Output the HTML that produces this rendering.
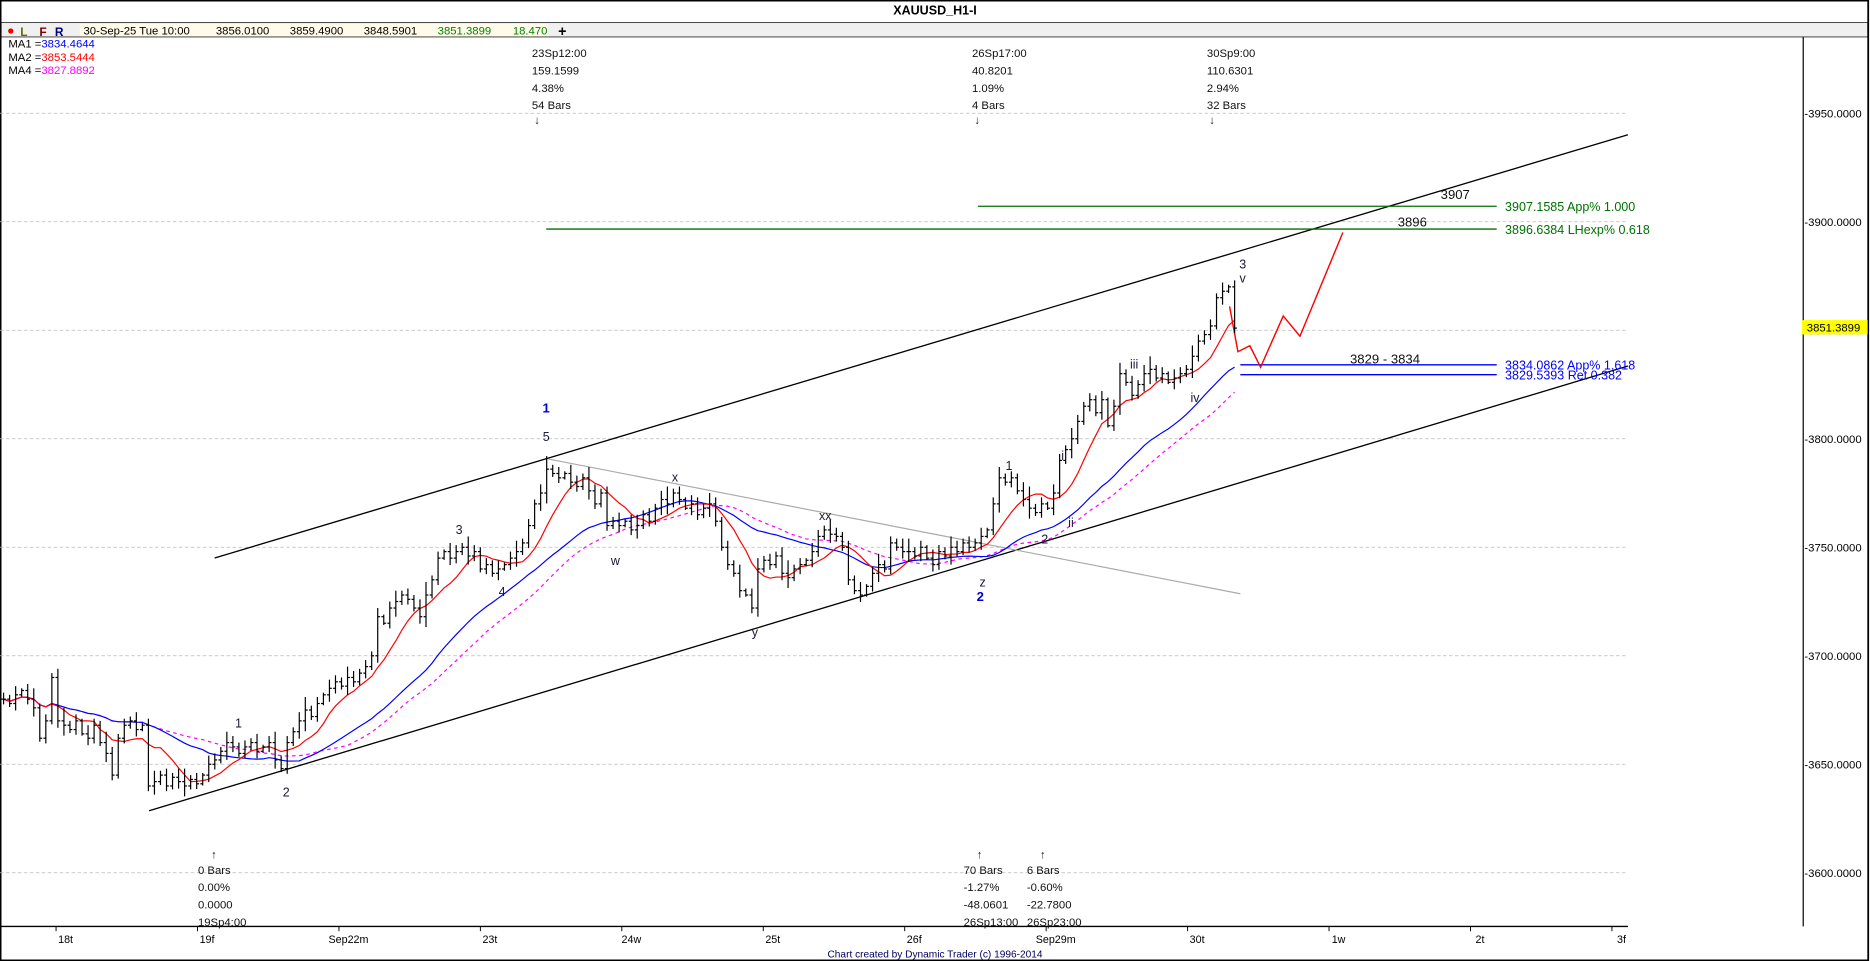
<!DOCTYPE html>
<html><head><meta charset="utf-8"><title>XAUUSD_H1-I</title>
<style>
html,body{margin:0;padding:0;background:#fff;}
svg{display:block;font-family:"Liberation Sans",sans-serif;}
</style></head>
<body>
<svg id="chart" width="1870" height="961" viewBox="0 0 1568 806" preserveAspectRatio="none" xmlns="http://www.w3.org/2000/svg">
  <rect x="0" y="0" width="1568" height="806" fill="#fff"/>
  <rect x="0.5" y="0.5" width="1566" height="805" fill="none" stroke="#000" stroke-width="1.5"/>
  <text x="784" y="12" font-size="10.5" font-weight="bold" text-anchor="middle">XAUUSD_H1-I</text>
  <rect x="1" y="19" width="1565" height="12" fill="#f0f0f0" stroke="#000" stroke-width="0.6"/>
  <circle cx="9" cy="26" r="2.2" fill="#e00"/>
  <text x="17" y="30" font-size="10" fill="#6b6b00" font-weight="bold">L</text>
  <text x="33" y="30" font-size="10" fill="#7a0000" font-weight="bold">F</text>
  <text x="46" y="30" font-size="10" fill="#000080" font-weight="bold">R</text>
  <rect x="67" y="20" width="392" height="10.5" fill="#fffbe8"/>
  <text x="70" y="29" font-size="9.5"><tspan>30-Sep-25 Tue 10:00</tspan><tspan x="181">3856.0100</tspan><tspan x="243">3859.4900</tspan><tspan x="305">3848.5901</tspan><tspan x="367" fill="#008000">3851.3899</tspan><tspan x="430" fill="#008000">18.470</tspan></text>
  <text x="468" y="30" font-size="12" font-weight="bold">+</text>
  <text x="7" y="40" font-size="9.5">MA1 =<tspan fill="#0000ff">3834.4644</tspan></text>
  <text x="7" y="51" font-size="9.5">MA2 =<tspan fill="#ff0000">3853.5444</tspan></text>
  <text x="7" y="62" font-size="9.5">MA4 =<tspan fill="#ff00ff">3827.8892</tspan></text>
  <g id="grid"></g>
  <g id="annot"></g>
  <g id="mas"></g>
  <g id="bars"></g>
  <g id="axes"></g>
  <g id="labels"></g>
</svg>
<script>
const closes = [
3680,3678,3682,3684,3680,3676,3662,3670,3690,3670,
3668,3666,3670,3664,3662,3668,3660,3655,3645,3662,3668,3670,3666,3668,
3640,3642,3645,3640,3644,3642,3640,3643,3641,3645,3650,
3652,3656,3660,3658,3655,3658,3660,3656,3658,3660,3652,3648,
3660,3665,3670,3675,3672,3678,3682,3685,3688,3686,
3690,3688,3692,3695,3700,3718,3715,3722,3725,3728,
3726,3722,3718,3728,3735,3745,3748,3745,3748,3750,
3746,3748,3740,3742,3738,3740,3742,3745,3748,3752,
3760,3770,3775,3786,
3784,3782,3784,3780,3778,3782,3776,3770,3775,
3760,3762,3760,3762,3758,3760,3765,3762,3768,3772,
3770,3775,3772,3768,3770,3765,3768,3770,3762,3750,
3742,3738,3730,3728,3722,3740,3744,3742,3746,3738,
3736,3740,3742,3744,3748,3755,3758,3756,3755,3750,
3735,3730,3728,3732,3738,3742,3740,3752,3750,3748,
3748,3746,3750,3745,3742,3748,3746,3750,3748,3752,
3750,3752,3755,3758,3770,3782,3780,3782,3776,3772,
3768,3766,3770,3768,3775,3790,3795,3800,3808,3815,
3818,3812,3818,3806,3815,3830,3826,3820,3825,3830,
3832,3828,3830,3826,3828,3830,3832,3838,3845,3848,
3852,3865,3868,3870,3851];
const wicks = [3,2,4,1,3,5,2,3,2,4,6,2,3,1,4,3,2,5,3,2];
const priceTicks = [3600,3650,3700,3750,3800,3850,3900,3950];
const dateLabels = ["18t","19f","Sep22m","23t","24w","25t","26f","Sep29m","30t","1w","2t","3f"];
const dateSlots = [0,1,2,3,4,5,6,7,8,9,10,11];
const lastPrice = 3851.3899;
const ma2Period = 8, ma1Period = 26, ma4Period = 34;

const NS="http://www.w3.org/2000/svg";
function yOf(p){return 186+(3900-p)*1.82;}
function xOf(i){return 3+i*5.06;}
function xDate(d){return 55+d*118.6;}
function mk(tag,attrs,parent,txt){const e=document.createElementNS(NS,tag);for(const k in attrs)e.setAttribute(k,attrs[k]);if(txt!==undefined)e.textContent=txt;document.getElementById(parent).appendChild(e);return e;}

priceTicks.forEach(p=>{
  const g=mk('line',{x1:0,x2:1365,y1:yOf(p),y2:yOf(p),stroke:'#bbb','stroke-width':0.7,'stroke-dasharray':'3,2'},'grid');
  
  
  const t=mk('text',{x:1513,y:yOf(p)+3.5,'font-size':9.5},'axes','-'+p.toFixed(4));
  
  
});
const ya=mk('line',{x1:1512,x2:1512,y1:31,y2:777,stroke:'#000','stroke-width':1},'axes');


const xa=mk('line',{x1:0,x2:1365,y1:777,y2:777,stroke:'#000','stroke-width':1.2},'axes');


dateLabels.forEach((d,k)=>{
  const x=xDate(dateSlots[k]);
  const tk=mk('line',{x1:x-8,x2:x-8,y1:777,y2:781,stroke:'#000','stroke-width':0.8},'axes');
  
  
  const t=mk('text',{x:x,y:791,'font-size':9,'text-anchor':'middle'},'axes',d);
  
  
});
const ft=mk('text',{x:784,y:803,'font-size':8.5,'text-anchor':'middle',fill:'#000060'},'axes','Chart created by Dynamic Trader  (c) 1996-2014');


const pb=mk('rect',{x:1511,y:yOf(lastPrice)-6,width:55,height:12,fill:'#ffff00'},'axes');


const pt=mk('text',{x:1515,y:yOf(lastPrice)+3.5,'font-size':9.5},'axes',lastPrice.toFixed(4));



closes.forEach((c,i)=>{
  const o=i>0?closes[i-1]:c;
  const w=wicks[i%wicks.length];
  const h=Math.max(o,c)+w, l=Math.min(o,c)-w*0.8;
  const x=xOf(i);
  const g=document.createElementNS(NS,'g');
  
  
  document.getElementById('bars').appendChild(g);
  [[x,yOf(h),x,yOf(l)],[x-2,yOf(o),x,yOf(o)],[x,yOf(c),x+2,yOf(c)]].forEach(s=>{
    const ln=document.createElementNS(NS,'line');
    ln.setAttribute('x1',s[0]);ln.setAttribute('y1',s[1]);ln.setAttribute('x2',s[2]);ln.setAttribute('y2',s[3]);
    ln.setAttribute('stroke','#000');ln.setAttribute('stroke-width','1');
    g.appendChild(ln);
  });
});

function ma(n){return closes.map((c,i)=>{const s=closes.slice(Math.max(0,i-n+1),i+1);return s.reduce((a,b)=>a+b,0)/s.length;});}
function path(vals){return vals.map((v,i)=>(i?'L':'M')+xOf(i).toFixed(1)+','+yOf(v).toFixed(1)).join('');}
const m4=mk('path',{d:path(ma(ma4Period)),fill:'none',stroke:'#ff00ff','stroke-width':1,'stroke-dasharray':'3,3'},'mas');


const m1=mk('path',{d:path(ma(ma1Period)),fill:'none',stroke:'#0000ff','stroke-width':1},'mas');


const m2=mk('path',{d:path(ma(ma2Period)),fill:'none',stroke:'#ff0000','stroke-width':1},'mas');



function L(name,x1,y1,x2,y2,col,w){const e=mk('line',{x1:x1,y1:y1,x2:x2,y2:y2,stroke:col,'stroke-width':w},'annot');}
L('upper-channel-line',180,468,1365,113,'#000',1.1);
L('lower-channel-line',125,680,1365,307,'#000',1.1);
L('gray-trend-line',460,385,1040,498,'#aaa',1);
L('target-3907-line',820,yOf(3907.1585),1255,yOf(3907.1585),'#007000',1.1);
L('target-3896-line',458,yOf(3896.6384),1255,yOf(3896.6384),'#007000',1.1);
L('support-3834-line',1040,yOf(3834.0862),1255,yOf(3834.0862),'#0000ff',1.1);
L('support-3829-line',1040,yOf(3829.5393),1255,yOf(3829.5393),'#0000ff',1.1);
const rp=mk('polyline',{points:'1031,257 1038,295 1048,290 1057,308 1076,265 1090,282 1126,195',fill:'none',stroke:'#ff0000','stroke-width':1.2},'annot');



function T(name,x,y,s,col,size,bold,anchor){const e=mk('text',{x:x,y:y,'font-size':size||10,fill:col||'#111','font-weight':bold?'bold':'normal','text-anchor':anchor||'start'},'labels',s);}
T('target-3907-label',1262,yOf(3907.1585)+4,'3907.1585 App% 1.000','#007000',10.5);
T('target-3896-label',1262,yOf(3896.6384)+4,'3896.6384 LHexp% 0.618','#007000',10.5);
T('support-3834-label',1262,yOf(3834.0862)+4,'3834.0862 App% 1.618','#0000ff',10.5);
T('support-3829-label',1262,yOf(3829.5393)+4,'3829.5393 Ret 0.382','#0000ff',10.5);
T('level-3907',1208,167,'3907','#111',11);
T('level-3896',1172,190,'3896','#111',11);
T('range-3829-3834',1132,305,'3829 - 3834','#111',11);
const topSwings=[[446,'23Sp12:00','159.1599','4.38%','54 Bars'],[815,'26Sp17:00','40.8201','1.09%','4 Bars'],[1012,'30Sp9:00','110.6301','2.94%','32 Bars']];
topSwings.forEach((a,k)=>{[1,2,3,4].forEach(j=>T('swing-top-'+k+'-'+j,a[0],48+(j-1)*14.5,a[j],'#111',9.5));T('swing-top-arrow-'+k,a[0]+2,104,'↓','#111',9.5);});
const botSwings=[[166,'0 Bars','0.00%','0.0000','19Sp4:00'],[808,'70 Bars','-1.27%','-48.0601','26Sp13:00'],[861,'6 Bars','-0.60%','-22.7800','26Sp23:00']];
botSwings.forEach((a,k)=>{T('swing-bot-arrow-'+k,a[0]+11,720,'↑','#111',9.5);[1,2,3,4].forEach(j=>T('swing-bot-'+k+'-'+j,a[0],733+(j-1)*14.5,a[j],'#111',9.5));});
const waves=[[458,346,'1','#0000cc',true],[458,370,'5'],[385,448,'3'],[421,500,'4'],[200,610,'1'],[240,668,'2'],[566,404,'x'],[516,474,'w'],[692,436,'xx'],[633,534,'y'],[824,492,'z'],[822,504,'2','#0000cc',true],[846,394,'1'],[876,456,'2'],[891,386,'i'],[898,442,'ii'],[951,309,'iii'],[1002,337,'iv'],[1042,225,'3'],[1042,237,'v']];
waves.forEach((w,k)=>T('wave-label-'+k,w[0],w[1],w[2],w[3]||'#1a1a3a',w[4]?11:10.5,w[4],'middle'));
</script>
</body></html>
